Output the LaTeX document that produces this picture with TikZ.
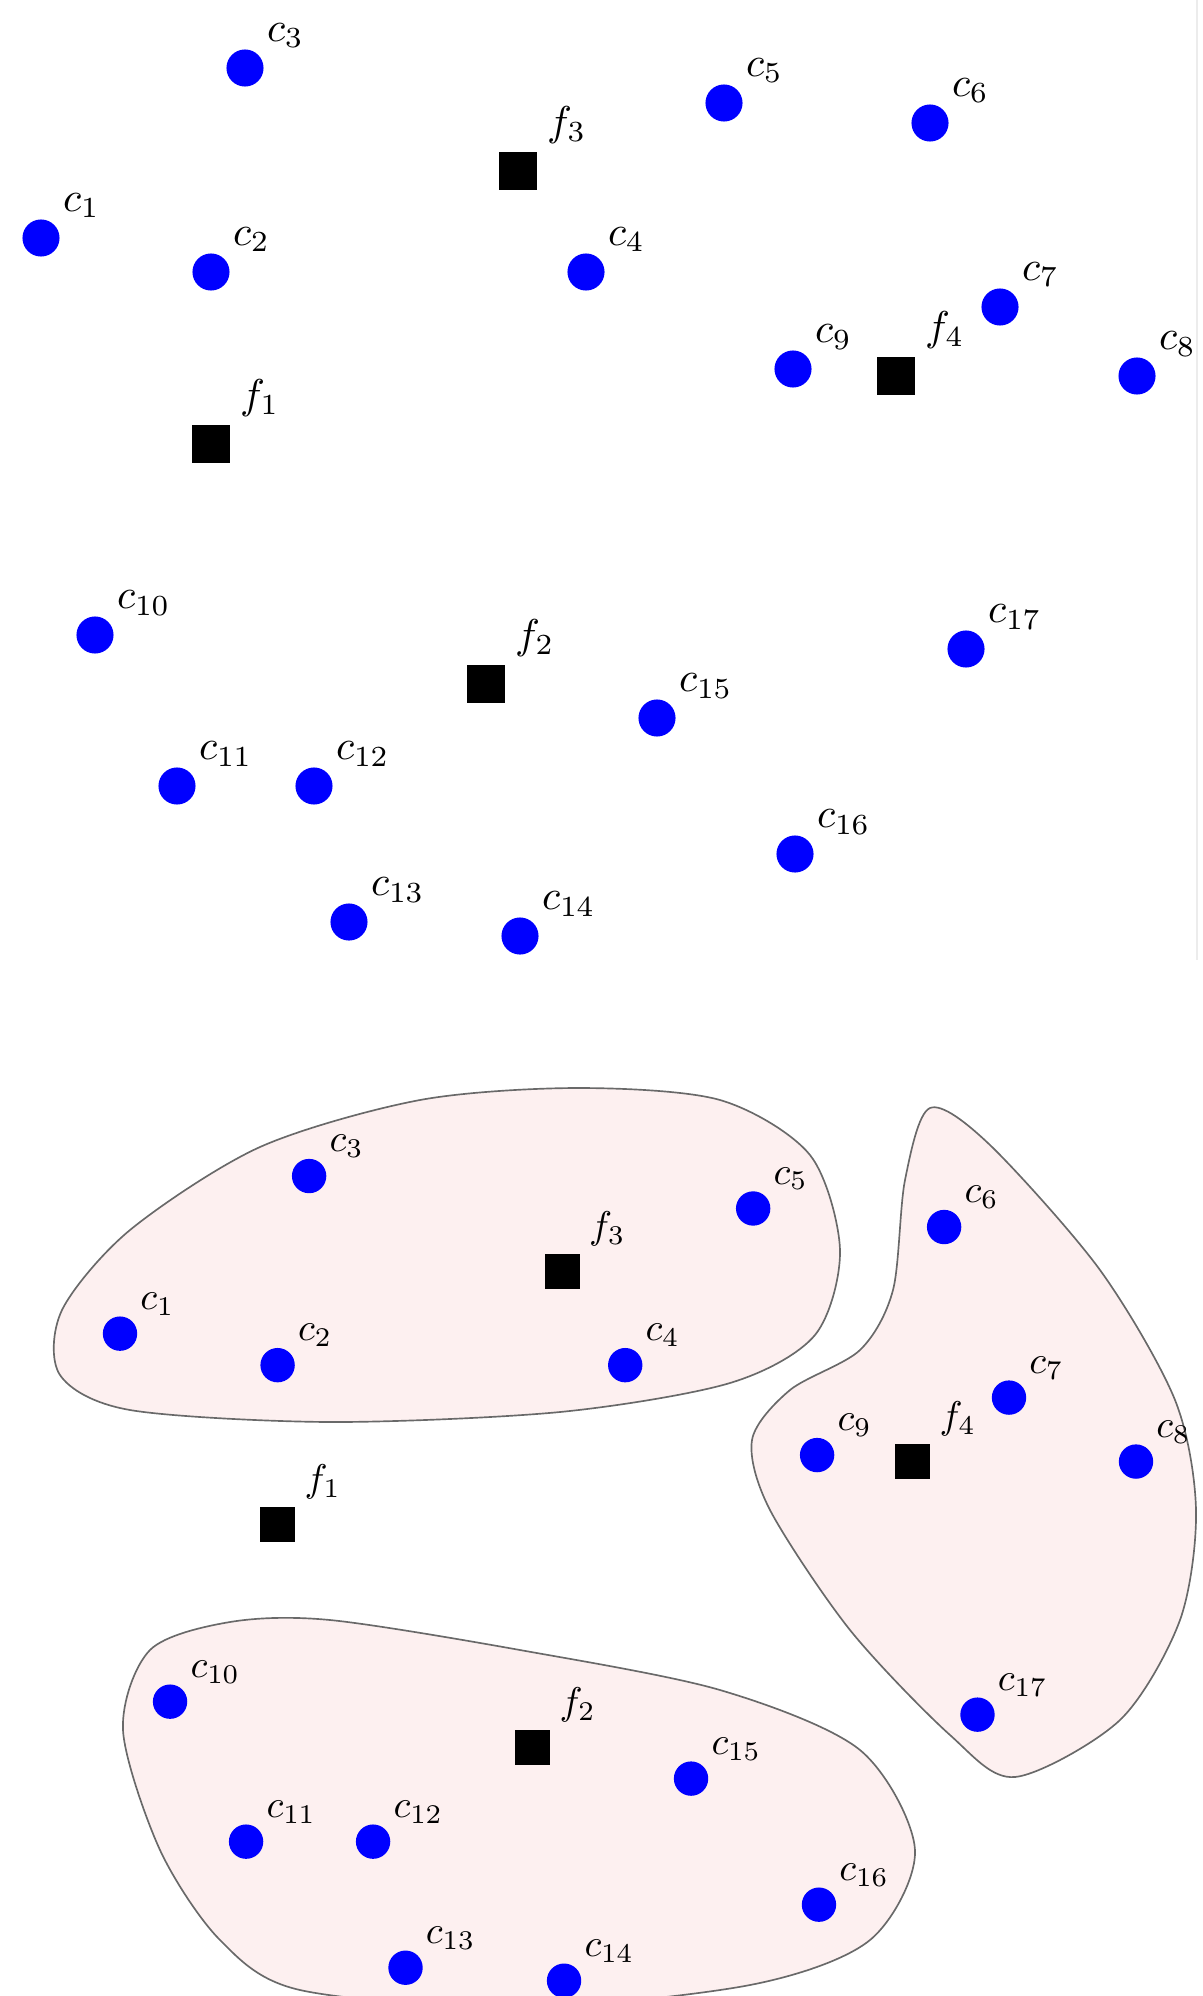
\documentclass[tikz,border=0pt]{standalone}
\usetikzlibrary{calc}
\definecolor{blobfill}{RGB}{253,240,240}
\definecolor{blobline}{RGB}{105,105,105}
\definecolor{edgegray}{RGB}{236,236,236}

% one set of clients (c) and facilities (f), drawn with a name prefix
\newcommand\facilityset[1]{%
  \foreach \n/\x/\y in {1/41/238, 2/211/272, 3/245/68, 4/586/272, 5/724/103,
      6/930/123, 7/1000/307, 8/1137/376, 9/793/369, 10/95/635, 11/177/786,
      12/314/786, 13/349/922, 14/520/936, 15/657/718, 16/795/854, 17/966/649}{
    \node[cdot] (#1c\n) at (\x,\y) {};
    \node[lab, xshift=5.1pt, yshift=6.3pt] (#1c\n-lab) at (\x,\y) {$c_{\n}$};
  }
  \foreach \n/\x/\y in {1/211/444, 2/486/684, 3/518/171, 4/896/376}{
    \node[fsq] (#1f\n) at (\x,\y) {};
    \node[lab, xshift=6.8pt, yshift=8.5pt] (#1f\n-lab) at (\x,\y) {$f_{\n}$};
  }%
}

\begin{document}
\begin{tikzpicture}[x=0.24pt, y=-0.24pt,
  cdot/.style={circle, fill=blue, draw=none, minimum size=8.9pt, inner sep=0pt},
  fsq/.style={rectangle, fill=black, draw=none, minimum size=9.1pt, inner sep=0pt},
  lab/.style={anchor=base west, inner sep=0pt},
  region/.style={fill=blobfill, draw=blobline, line width=0.4pt}]
\path[use as bounding box, clip] (0,0) rectangle (1202,1996);

% thin edge of the upper panel
\draw[edgegray, line width=0.5pt] (1197,0) -- (1197,960);

% upper panel: the instance
\facilityset{t}

% lower panel: the clusters around the opened facilities
\draw[region] plot[smooth cycle] coordinates {
  (578,1088) (720,1100) (810,1155) (840,1250) (815,1335) (730,1383)
  (560,1412) (330,1422) (130,1410) (60,1375) (62,1310) (130,1230)
  (260,1147) (420,1100)};
\draw[region] plot[smooth cycle] coordinates {
  (930,1108) (990,1145) (1100,1270) (1175,1400) (1196,1510) (1180,1620)
  (1120,1720) (1015,1777) (950,1735) (850,1630) (770,1510) (752,1440)
  (790,1390) (860,1350) (893,1290) (905,1180)};
\draw[region] plot[smooth cycle] coordinates {
  (330,1620) (520,1650) (720,1690) (860,1750) (915,1850) (870,1940)
  (750,1985) (520,2008) (300,1990) (220,1940) (160,1850) (123,1730)
  (150,1650) (230,1622)};

\begin{scope}[shift={(82,1113)}, scale=0.927, transform shape]
  \facilityset{b}
\end{scope}
\end{tikzpicture}
\end{document}
